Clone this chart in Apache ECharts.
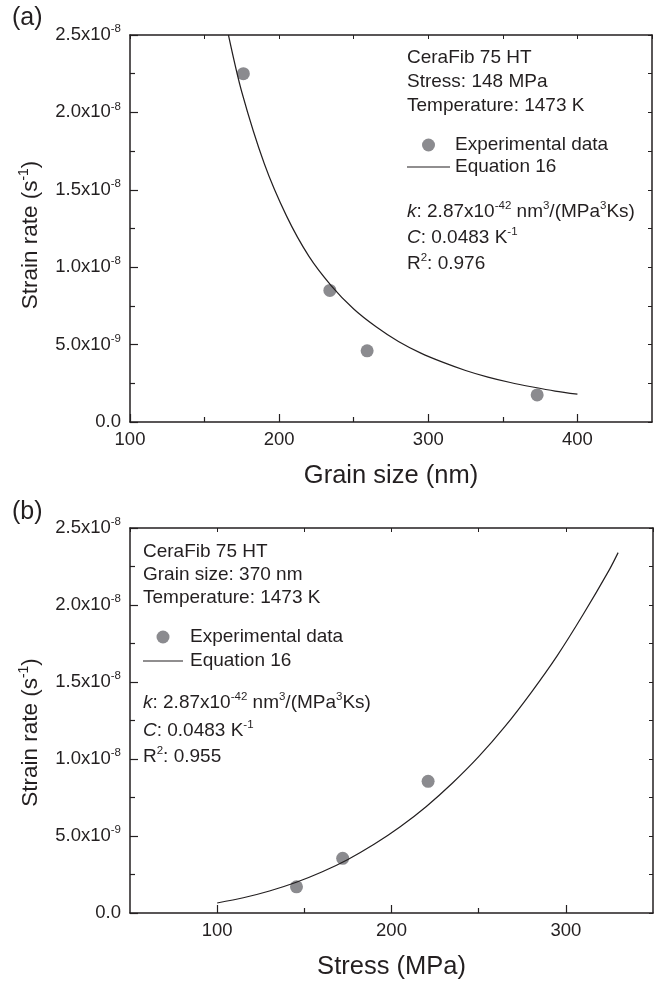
<!DOCTYPE html>
<html>
<head>
<meta charset="utf-8">
<script src="https://cdn.jsdelivr.net/npm/echarts@6/dist/echarts.min.js"></script>
<style>
  html, body { margin: 0; padding: 0; background: #fff; }
  #chart { width: 660px; height: 984px; }
</style>
</head>
<body>
<div id="chart"></div>
<script>
// (a) strain rate vs grain size
var grainExpX = [176, 234, 259, 373];
var grainExpY = [22.5e-9, 8.5e-9, 4.6e-9, 1.75e-9];
var grainFitX = [166, 175, 190, 205, 220, 235, 250, 265, 280, 295, 310, 325, 340, 355, 370, 385, 400];
var grainFitY = [25.0e-9, 21.3e-9, 16.7e-9, 13.3e-9, 10.7e-9, 8.8e-9, 7.3e-9, 6.15e-9, 5.2e-9, 4.45e-9,
                 3.85e-9, 3.33e-9, 2.9e-9, 2.55e-9, 2.26e-9, 2.0e-9, 1.8e-9];

// (b) strain rate vs stress
var stressExpX = [145.5, 172, 221];
var stressExpY = [1.7e-9, 3.55e-9, 8.55e-9];
var stressFitX = [100, 115, 130, 145, 160, 175, 190, 205, 220, 235, 250, 265, 280, 295, 310, 325, 330];
var stressFitY = [0.65e-9, 0.99e-9, 1.43e-9, 1.98e-9, 2.66e-9, 3.48e-9, 4.46e-9, 5.6e-9, 6.92e-9, 8.44e-9,
                  10.15e-9, 12.1e-9, 14.3e-9, 16.7e-9, 19.4e-9, 22.3e-9, 23.4e-9];

// ticks
var grainTicks = [100, 200, 300, 400];
var grainMinor = [150, 250, 350];
var stressTicks = [100, 200, 300];
var stressMinor = [150, 250];
var rateTicks = [0, 5e-9, 1e-8, 1.5e-8, 2e-8, 2.5e-8];
var rateMinor = [2.5e-9, 7.5e-9, 1.25e-8, 1.75e-8, 2.25e-8];

var FONT = 'Liberation Sans';
var INK = '#231f20';
var DOT = '#8b8b8f';

function pairs(xs, ys) {
  return xs.map(function (x, i) { return [x, ys[i]]; });
}

function sciLabel(v) {
  if (v === 0) return '{m|0.0}';
  var e = Math.floor(Math.log10(v) + 1e-9);
  var m = v / Math.pow(10, e);
  return '{m|' + m.toFixed(1) + 'x10}{s|' + e + '}';
}

var supRich = {
  m: { fontSize: 18.5, lineHeight: 24, color: INK, fontFamily: FONT },
  n: { fontSize: 19, lineHeight: 25, color: INK, fontFamily: FONT },
  i: { fontSize: 19, lineHeight: 25, color: INK, fontFamily: FONT, fontStyle: 'italic' },
  t: { fontSize: 22.5, lineHeight: 28, color: INK, fontFamily: FONT },
  s: { fontSize: 11.5, lineHeight: 11.5, color: INK, fontFamily: FONT, verticalAlign: 'top' },
  ts: { fontSize: 14, lineHeight: 14, color: INK, fontFamily: FONT, verticalAlign: 'top' }
};

function mainX(grid, min, max, ticks, name) {
  return {
    type: 'value', gridIndex: grid, position: 'bottom', min: min, max: max, interval: 50,
    name: name, nameLocation: 'middle', nameGap: 41,
    nameTextStyle: { fontSize: 25.5, color: INK, fontFamily: FONT },
    axisLine: { show: true, onZero: false, lineStyle: { color: INK, width: 1.5 } },
    axisTick: { show: true, inside: true, length: 8, customValues: ticks, lineStyle: { color: INK, width: 1.2 } },
    axisLabel: { show: true, margin: 8, customValues: ticks, fontSize: 18.5, color: INK, fontFamily: FONT },
    splitLine: { show: false }
  };
}
function minorX(grid, min, max, ticks) {
  return {
    type: 'value', gridIndex: grid, position: 'bottom', min: min, max: max,
    axisLine: { show: false },
    axisTick: { show: true, inside: true, length: 5, customValues: ticks, lineStyle: { color: INK, width: 1.2 } },
    axisLabel: { show: false }, splitLine: { show: false }
  };
}
function mirrorX(grid, min, max) {
  return {
    type: 'value', gridIndex: grid, position: 'top', min: min, max: max, interval: 50,
    axisLine: { show: true, onZero: false, lineStyle: { color: INK, width: 1.5 } },
    axisTick: { show: true, inside: true, length: 4, lineStyle: { color: INK, width: 1 } },
    axisLabel: { show: false }, splitLine: { show: false }
  };
}
// shift pushes the rotated title down the axis a little, as in the figure
function mainY(grid, shift) {
  return {
    type: 'value', gridIndex: grid, position: 'left', min: 0, max: 2.5e-8,
    name: '{t|Strain rate (s}{ts|-1}{t|)}', nameLocation: 'middle', nameGap: 85, nameRotate: 90,
    nameTextStyle: { rich: supRich, padding: [0, shift, 0, 0] },
    axisLine: { show: true, onZero: false, lineStyle: { color: INK, width: 1.5 } },
    axisTick: { show: true, inside: true, length: 8, customValues: rateTicks, lineStyle: { color: INK, width: 1.2 } },
    axisLabel: { show: true, margin: 9, customValues: rateTicks, formatter: sciLabel, rich: supRich },
    splitLine: { show: false }
  };
}
function minorY(grid) {
  return {
    type: 'value', gridIndex: grid, position: 'left', min: 0, max: 2.5e-8,
    axisLine: { show: false },
    axisTick: { show: true, inside: true, length: 5, customValues: rateMinor, lineStyle: { color: INK, width: 1.2 } },
    axisLabel: { show: false }, splitLine: { show: false }
  };
}
function mirrorY(grid) {
  return {
    type: 'value', gridIndex: grid, position: 'right', min: 0, max: 2.5e-8,
    axisLine: { show: true, onZero: false, lineStyle: { color: INK, width: 1.5 } },
    axisTick: { show: true, inside: true, length: 4, customValues: rateTicks.concat(rateMinor), lineStyle: { color: INK, width: 1 } },
    axisLabel: { show: false }, splitLine: { show: false }
  };
}

function note(x, y, text) {
  return {
    type: 'text', x: x, y: y, silent: true,
    style: { text: text, rich: supRich, fill: INK, font: '19px "' + FONT + '"', verticalAlign: 'middle', align: 'left' }
  };
}

// legend drawn as graphics: dot + text, line + text
function legendAt(x, y, lineLen, textX, gap) {
  return [
    { type: 'circle', shape: { cx: x + lineLen / 2, cy: y, r: 6.5 }, style: { fill: DOT }, silent: true },
    note(textX, y, '{n|Experimental data}'),
    { type: 'line', shape: { x1: x, y1: y + gap, x2: x + lineLen, y2: y + gap }, style: { stroke: INK, lineWidth: 1.2 }, silent: true },
    note(textX, y + gap, '{n|Equation 16}')
  ];
}

var chart = echarts.init(document.getElementById('chart'));
chart.setOption({
  animation: false,
  backgroundColor: '#fff',
  grid: [
    { left: 130, top: 35, width: 522, height: 387 },
    { left: 130, top: 528, width: 523, height: 385 }
  ],
  xAxis: [
    mainX(0, 100, 450, grainTicks, 'Grain size (nm)'),
    minorX(0, 100, 450, grainMinor),
    mirrorX(0, 100, 450),
    mainX(1, 50, 350, stressTicks, 'Stress (MPa)'),
    minorX(1, 50, 350, stressMinor),
    mirrorX(1, 50, 350)
  ],
  yAxis: [
    mainY(0, 13), minorY(0), mirrorY(0),
    mainY(1, 24), minorY(1), mirrorY(1)
  ],
  series: [
    {
      name: 'Equation 16', type: 'line', xAxisIndex: 0, yAxisIndex: 0,
      data: pairs(grainFitX, grainFitY), symbol: 'none', smooth: 0.3,
      lineStyle: { color: INK, width: 1.2 }, z: 3
    },
    {
      name: 'Experimental data', type: 'scatter', xAxisIndex: 0, yAxisIndex: 0,
      data: pairs(grainExpX, grainExpY), symbol: 'circle', symbolSize: 13,
      itemStyle: { color: DOT, opacity: 1 }, z: 2
    },
    {
      name: 'Equation 16', type: 'line', xAxisIndex: 3, yAxisIndex: 3,
      data: pairs(stressFitX, stressFitY), symbol: 'none', smooth: 0.3,
      lineStyle: { color: INK, width: 1.2 }, z: 3
    },
    {
      name: 'Experimental data', type: 'scatter', xAxisIndex: 3, yAxisIndex: 3,
      data: pairs(stressExpX, stressExpY), symbol: 'circle', symbolSize: 13,
      itemStyle: { color: DOT, opacity: 1 }, z: 2
    }
  ],
  graphic: [
    { type: 'text', x: 12, y: 18, style: { text: '(a)', fill: INK, font: '25px "' + FONT + '"', verticalAlign: 'middle' } },
    { type: 'text', x: 12, y: 512, style: { text: '(b)', fill: INK, font: '25px "' + FONT + '"', verticalAlign: 'middle' } },

    note(407, 58, '{n|CeraFib 75 HT}'),
    note(407, 82, '{n|Stress: 148 MPa}'),
    note(407, 106, '{n|Temperature: 1473 K}'),
    note(407, 212, '{i|k}{n|: 2.87x10}{s|-42}{n| nm}{s|3}{n|/(MPa}{s|3}{n|Ks)}'),
    note(407, 238, '{i|C}{n|: 0.0483 K}{s|-1}'),
    note(407, 264, '{n|R}{s|2}{n|: 0.976}'),

    note(143, 552, '{n|CeraFib 75 HT}'),
    note(143, 575, '{n|Grain size: 370 nm}'),
    note(143, 598, '{n|Temperature: 1473 K}'),
    note(143, 703, '{i|k}{n|: 2.87x10}{s|-42}{n| nm}{s|3}{n|/(MPa}{s|3}{n|Ks)}'),
    note(143, 731, '{i|C}{n|: 0.0483 K}{s|-1}'),
    note(143, 757, '{n|R}{s|2}{n|: 0.955}')
  ].concat(legendAt(407, 145, 43, 455, 22), legendAt(143, 637, 40, 190, 24))
});
</script>
</body>
</html>
